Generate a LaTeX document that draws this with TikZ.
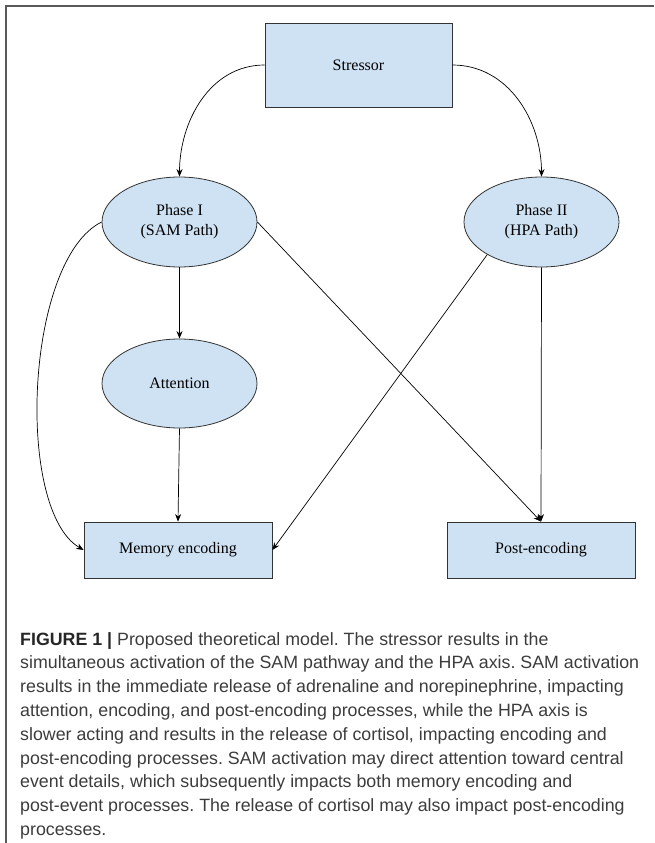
\documentclass[tikz,border=0pt]{standalone}
\usepackage{fontspec}
\setmainfont{Liberation Serif}
\newfontfamily\capfont{Liberation Sans}
\usepackage{tikz}
\usetikzlibrary{shapes}
\usetikzlibrary{arrows.meta}
\usepackage{xcolor}
\definecolor{boxblue}{HTML}{CFE2F3}
\definecolor{capgray}{HTML}{3C3C3C}
\frenchspacing

\begin{document}
\begin{tikzpicture}[x=1pt,y=-1pt,
  blockbox/.style={draw=black!80,fill=boxblue,line width=0.8pt,minimum width=188pt,inner sep=0pt,font=\fontsize{16}{20}\selectfont},
  oval/.style={ellipse,draw=black!80,fill=boxblue,line width=0.8pt,minimum width=155pt,minimum height=90pt,inner sep=0pt,align=center,font=\fontsize{16}{20}\selectfont},
  link/.style={line width=0.7pt,-{Stealth[length=7.5pt,width=6pt]}},
  capline/.style={anchor=base west,inner sep=0pt,text=capgray,font=\capfont\fontsize{17.8}{24}\selectfont}]
\useasboundingbox (0,0) rectangle (654,843);
\draw[black!65,line width=1.2pt] (654,6)--(6,6)--(6,843);

\node[blockbox,minimum width=187pt,minimum height=84pt] (stressor) at (358.5,65) {Stressor};
\node[oval] (sam) at (179.5,222) {Phase I\\(SAM Path)};
\node[oval] (hpa) at (541.5,222) {Phase II\\(HPA Path)};
\node[oval,minimum height=89pt] (attn) at (179.5,383.5) {Attention};
\node[blockbox,minimum height=56pt] (memenc) at (178,550) {Memory encoding};
\node[blockbox,minimum height=56pt] (postenc) at (541,550) {Post-encoding};

\draw[link] (stressor.west) to[out=180,in=90] (sam.north);
\draw[link] (stressor.east) to[out=0,in=90] (hpa.north);
\draw[link] (sam.south)--(attn.north);
\draw[link] (attn.south)--(memenc.north);
\draw[link] (sam.west) .. controls (25,260) and (15,510) .. (memenc.west);
\draw[link] (sam.east)--(postenc.north);
\draw[link] (hpa.211)--(memenc.east);
\draw[link] (hpa.south)--(postenc.north);

\node[capline] (cap1) at (20,645) {\textbf{\color{black!85}FIGURE 1 |} Proposed theoretical model. The stressor results in the};
\node[capline] (cap2) at (20,668.8) {simultaneous activation of the SAM pathway and the HPA axis. SAM activation};
\node[capline] (cap3) at (20,692.6) {results in the immediate release of adrenaline and norepinephrine, impacting};
\node[capline] (cap4) at (20,716.4) {attention, encoding, and post-encoding processes, while the HPA axis is};
\node[capline] (cap5) at (20,740.2) {slower acting and results in the release of cortisol, impacting encoding and};
\node[capline] (cap6) at (20,764) {post-encoding processes. SAM activation may direct attention toward central};
\node[capline] (cap7) at (20,787.8) {event details, which subsequently impacts both memory encoding and};
\node[capline] (cap8) at (20,811.6) {post-event processes. The release of cortisol may also impact post-encoding};
\node[capline] (cap9) at (20,835.4) {processes.};

\end{tikzpicture}
\end{document}
